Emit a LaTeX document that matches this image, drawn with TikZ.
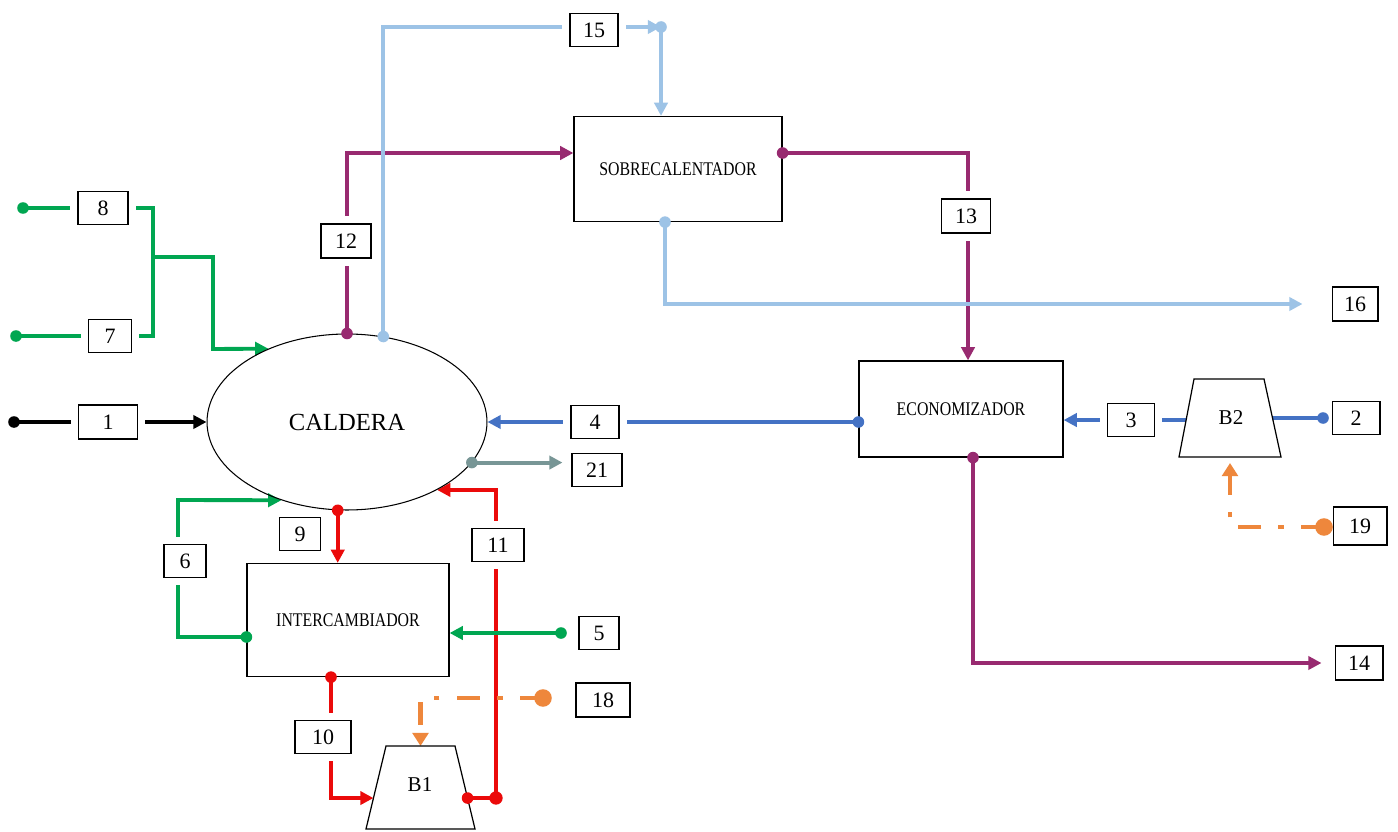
\documentclass[tikz,border=0pt]{standalone}
\usepackage{fontspec}
\setmainfont{Liberation Serif}
\newfontfamily\condf[FakeStretch=0.82]{Liberation Serif}
\usetikzlibrary{shapes.geometric,arrows.meta,calc}
\pgfdeclarelayer{bg}
\pgfsetlayers{bg,main}
\definecolor{cgreen}{RGB}{0,166,81}
\definecolor{cpurple}{RGB}{152,42,112}
\definecolor{clblue}{RGB}{157,195,230}
\definecolor{cblue}{RGB}{68,114,196}
\definecolor{cred}{RGB}{235,10,10}
\definecolor{corange}{RGB}{238,135,60}
\definecolor{cgray}{RGB}{120,150,150}
\begin{document}
\begin{tikzpicture}[x=0.02cm,y=-0.02cm,
  lbl/.style 2 args={draw, fill=white, line width=0.6pt, minimum width=#1cm, minimum height=#2cm, inner sep=0pt, font=\fontsize{12.5}{14}\selectfont},
  halo/.style={preaction={draw=white, line width=9pt}},
  proc/.style 2 args={draw, fill=white, line width=0.7pt, minimum width=#1cm, minimum height=#2cm, inner sep=0pt, font=\condf\fontsize{11}{13}\selectfont},
  flow/.style={line width=2.2pt},
  arr/.style={-{Triangle[length=7.5pt,width=7.5pt]}},
  oarr/.style={-{Triangle[length=7.5pt,width=9pt]}},
  dd/.style={line width=2.8pt, draw=corange, dash pattern=on 13pt off 10pt on 3pt off 10pt},
  dot/.style={radius=3.3pt}
]
\useasboundingbox (0,0) rectangle (1398,831);

% main units
\node[ellipse, draw, line width=0.6pt, minimum width=5.6cm, minimum height=3.52cm, inner sep=0pt, font=\fontsize{14}{16}\selectfont] (cal) at (347,422) {CALDERA};
\node[proc={4.16}{2.1}] (sob) at (678,169) {SOBRECALENTADOR};
\node[proc={4.08}{1.92}] (eco) at (961,409) {ECONOMIZADOR};
\node[proc={4.04}{2.26}] (int) at (348,620) {INTERCAMBIADOR};

% pumps
\coordinate (b1tl) at (386,746); \coordinate (b1tr) at (455,746);
\coordinate (b1br) at (475,829); \coordinate (b1bl) at (366,829);
\draw[line width=0.7pt, fill=white] (b1tl) -- (b1tr) -- (b1br) -- (b1bl) -- cycle;
\node[font=\fontsize{12}{14}\selectfont] (b1) at (420,785) {B1};
\coordinate (b2tl) at (1194,379); \coordinate (b2tr) at (1264,379);
\coordinate (b2br) at (1281,457); \coordinate (b2bl) at (1179,457);
\draw[line width=0.7pt, fill=white] (b2tl) -- (b2tr) -- (b2br) -- (b2bl) -- cycle;
\node[font=\fontsize{12}{14}\selectfont] (b2) at (1231,418) {B2};

% stream labels
\node[lbl={1.0}{0.66}, halo] (n8) at (103,208) {8};
\node[lbl={0.86}{0.66}, halo] (n7) at (110,336) {7};
\node[lbl={1.18}{0.68}, halo] (n1) at (108,422) {1};
\node[lbl={1.0}{0.68}, halo] (n12) at (346,241) {12};
\node[lbl={0.96}{0.66}, halo] (n15) at (594,30) {15};
\node[lbl={0.98}{0.68}, halo] (n13) at (966,216) {13};
\node[lbl={0.92}{0.68}] (n16) at (1355,304) {16};
\node[lbl={0.96}{0.66}, halo] (n4) at (595,422) {4};
\node[lbl={1.0}{0.66}] (n21) at (597,470) {21};
\node[lbl={0.94}{0.66}, halo] (n3) at (1131,420) {3};
\node[lbl={0.96}{0.66}] (n2) at (1356,418) {2};
\node[lbl={1.08}{0.76}] (n19) at (1360,526) {19};
\node[lbl={0.96}{0.68}] (n14) at (1359,663) {14};
\node[lbl={0.82}{0.66}] (n9) at (300,534) {9};
\node[lbl={1.04}{0.66}, halo] (n11) at (498,545) {11};
\node[lbl={0.84}{0.66}, halo] (n6) at (185,561) {6};
\node[lbl={0.80}{0.66}] (n5) at (599,633) {5};
\node[lbl={1.08}{0.68}] (n18) at (603,700) {18};
\node[lbl={1.12}{0.66}, halo] (n10) at (323,737) {10};

% connector points
\coordinate (d8) at (23,208);
\coordinate (d7) at (16,336);
\coordinate (d1) at (14,422);
\coordinate (j78) at (153,257);
\coordinate (b78) at (213,349);
\coordinate (d5) at (561,633);
\coordinate (d18) at (543,698);
\coordinate (d2) at (1323,418);
\coordinate (d19) at (1324,527);
\coordinate (j15) at (661,27);
\coordinate (j11) at (496,798);
\coordinate (c6) at (178,500);
\coordinate (b1l) at ($(b1tl)!0.627!(b1bl)$);
\coordinate (b1r) at ($(b1tr)!0.627!(b1br)$);
\coordinate (b1t) at ($(b1tl)!0.5!(b1tr)$);
\coordinate (b2l) at ($(b2tl)!0.526!(b2bl)$);
\coordinate (b2r) at ($(b2tr)!0.5!(b2br)$);
\coordinate (b2b) at ($(b2bl)!0.5!(b2br)$);
\coordinate (s13) at ($(sob.east)+(0,-16)$);
\coordinate (s12) at ($(sob.west)+(0,-16)$);
\coordinate (s16) at ($(sob.south)+(-13,0)$);
\coordinate (e4) at (eco.west |- cal.east);
\coordinate (e14) at ($(eco.south)+(12,0)$);
\coordinate (e13) at ($(eco.north)+(7,0)$);
\coordinate (e10) at ($(int.south)+(-17,0)$);
\coordinate (e6) at ($(int.west)+(0,17)$);

\begin{pgfonlayer}{bg}
\fill[white] (0,0) rectangle (1398,831);
\draw[flow, cgreen] (d8) -- (d8 -| j78) -- (j78);
\draw[flow, cgreen] (d7) -- (d7 -| j78) -- (j78);
\draw[flow, cgreen, arr] (j78) -| (b78) -- (cal.137);
\draw[flow, black, arr] (d1) -- (cal.west);
\draw[flow, cpurple, arr] (cal.north) |- (s12);
\draw[flow, clblue, arr] (cal.67) |- (j15);
\draw[flow, clblue, arr] (j15) -- (j15 |- sob.north);
\draw[flow, cpurple, arr] (s13) -| (e13);
\draw[flow, clblue, arr, shorten >=0.58cm] (s16) |- (n16.west);
\draw[flow, cblue, arr] (e4) -- (cal.east);
\draw[flow, cgray, arr, shorten >=0.18cm] (cal.-18) -- (cal.-18 -| n21.west);
\draw[flow, cblue, arr] (b2l) -- (b2l -| eco.east);
\draw[flow, cblue] (d2) -- (b2r);
\draw[dd, oarr, shorten >=0.12cm] (d19) -| (b2b);
\draw[flow, cpurple, arr, shorten >=0.26cm] (e14) |- (n14.west);
\draw[flow, cred, arr] (cal.264) -- (cal.264 |- int.north);
\draw[flow, cred, arr] (e10) |- (b1l);
\draw[flow, cred] (b1r) -- (j11);
\draw[flow, cred, arr] (j11) |- (cal.-37.4);
\draw[flow, cgreen, arr] (e6) -| (c6) -- (cal.230.3);
\draw[flow, cgreen, arr] (d5) -- (d5 -| int.east);
\draw[dd, oarr] (d18) -| (b1t);
\end{pgfonlayer}

% dots
\fill[cgreen] (d8) circle[dot] (d7) circle[dot] (d5) circle[dot] (e6) circle[dot];
\fill[black] (d1) circle[dot];
\fill[cpurple] (cal.north) circle[dot] (s13) circle[dot] (e14) circle[dot];
\fill[clblue] (cal.67) circle[dot] (j15) circle[dot] (s16) circle[dot];
\fill[cblue] (e4) circle[dot] (d2) circle[dot];
\fill[cgray] (cal.-18) circle[dot];
\fill[cred] (cal.264) circle[dot] (e10) circle[dot] (b1r) circle[dot] (j11) circle[radius=3.8pt];
\fill[corange] (d18) circle[radius=5pt] (d19) circle[radius=5pt];
\end{tikzpicture}
\end{document}
